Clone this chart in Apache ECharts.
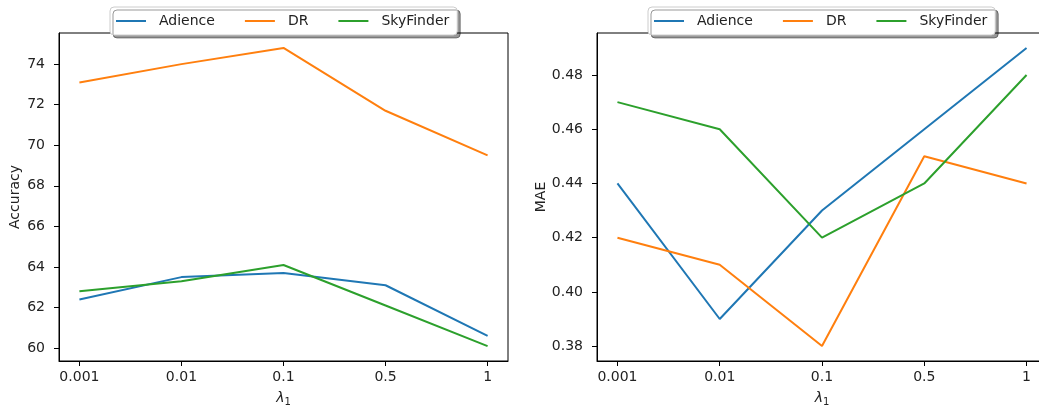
<!DOCTYPE html>
<html><head><meta charset="utf-8">
<script src="https://cdn.jsdelivr.net/npm/echarts@6/dist/echarts.min.js"></script>
<style>html,body{margin:0;padding:0;background:#fff;overflow:hidden}#c{width:1039px;height:406px}</style>
</head><body><div id="c"></div>
<script>
const categories = ['0.001', '0.01', '0.1', '0.5', '1'];
const seriesNames = ['Adience', 'DR', 'SkyFinder'];
const accAdience = [62.4, 63.5, 63.7, 63.1, 60.6];
const accDR = [73.1, 74.0, 74.8, 71.7, 69.5];
const accSky = [62.8, 63.3, 64.1, 62.1, 60.1];
const maeAdience = [0.44, 0.39, 0.43, 0.46, 0.49];
const maeDR = [0.42, 0.41, 0.38, 0.45, 0.44];
const maeSky = [0.47, 0.46, 0.42, 0.44, 0.48];
const accTicks = [60, 62, 64, 66, 68, 70, 72, 74];
const maeTicks = [0.38, 0.40, 0.42, 0.44, 0.46, 0.48];
const colors = ['#1f77b4', '#ff7f0e', '#2ca02c'];
const FONT = 'DejaVu Sans';

function pairs(arr) { return arr.map((v, i) => [i, v]); }
const xIdx = categories.map((_, i) => i);

function xAxis(gi) {
  return {
    type: 'value', gridIndex: gi, min: -0.2, max: 4.2,
    axisLine: { show: true, onZero: false, lineStyle: { color: '#000', width: 1 } },
    axisTick: { show: true, customValues: xIdx, length: 5, lineStyle: { color: '#000' } },
    axisLabel: { show: true, customValues: xIdx, margin: 9, color: '#222', fontFamily: FONT, fontSize: 14,
      formatter: v => categories[Math.round(v)] },
    splitLine: { show: false },
    name: '{a|λ}{b|1}', nameLocation: 'middle', nameGap: 28,
    nameTextStyle: { rich: {
      a: { fontFamily: FONT, fontStyle: 'italic', fontSize: 14, color: '#222' },
      b: { fontFamily: FONT, fontSize: 10, color: '#222', padding: [8, 0, 0, 0] } } }
  };
}
function yAxis(gi, min, max, ticks, name, dec, gap) {
  return {
    type: 'value', gridIndex: gi, min: min, max: max,
    axisLine: { show: true, onZero: false, lineStyle: { color: '#000', width: 1 } },
    axisTick: { show: true, customValues: ticks, length: 5, lineStyle: { color: '#000' } },
    axisLabel: { show: true, customValues: ticks, margin: 14, color: '#222', fontFamily: FONT, fontSize: 14,
      formatter: v => v.toFixed(dec) },
    splitLine: { show: false },
    name: name, nameLocation: 'middle', nameGap: gap,
    nameTextStyle: { fontFamily: FONT, fontSize: 14, color: '#222' }
  };
}
function line(name, data, gi, ci) {
  return { name: name, type: 'line', xAxisIndex: gi, yAxisIndex: gi, data: pairs(data),
    showSymbol: false, symbol: 'none', color: colors[ci], lineStyle: { width: 2, color: colors[ci] }, animation: false };
}
function legend(left) {
  return {
    left: left, top: 7, data: seriesNames, icon: 'rect', itemWidth: 30, itemHeight: 2, itemGap: 30,
    padding: [7, 8, 7, 6], backgroundColor: '#fff', borderColor: '#ccc', borderWidth: 1, borderRadius: 4,
    shadowColor: 'rgba(0,0,0,0.4)', shadowOffsetX: 3, shadowOffsetY: 3, shadowBlur: 0,
    textStyle: { fontFamily: FONT, fontSize: 14, color: '#222', padding: [0, 0, 0, 8] }
  };
}
const chart = echarts.init(document.getElementById('c'));
chart.setOption({
  animation: false,
  backgroundColor: '#fff',
  legend: [legend(110), legend(648)],
  grid: [
    { left: 59, right: 531, top: 33, bottom: 45, show: true, borderColor: '#000', borderWidth: 1, containLabel: false, outerBoundsMode: 'none' },
    { left: 597, right: -8, top: 33, bottom: 45, show: true, borderColor: '#000', borderWidth: 1, containLabel: false, outerBoundsMode: 'none' }
  ],
  xAxis: [xAxis(0), xAxis(1)],
  yAxis: [yAxis(0, 59.365, 75.535, accTicks, 'Accuracy', 0, 37), yAxis(1, 0.3745, 0.4955, maeTicks, 'MAE', 2, 49)],
  series: [
    line('Adience', accAdience, 0, 0), line('DR', accDR, 0, 1), line('SkyFinder', accSky, 0, 2),
    line('Adience', maeAdience, 1, 0), line('DR', maeDR, 1, 1), line('SkyFinder', maeSky, 1, 2)
  ]
});
</script></body></html>
